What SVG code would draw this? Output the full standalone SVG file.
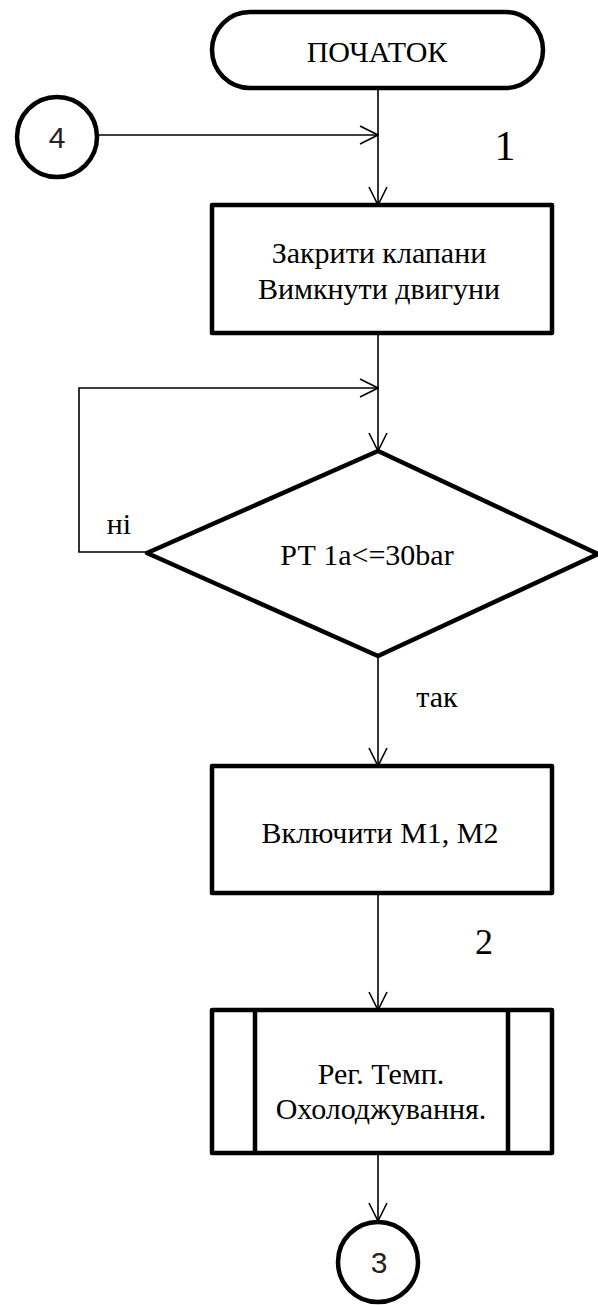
<svg xmlns="http://www.w3.org/2000/svg" width="598" height="1305" viewBox="0 0 598 1305">
<style>
.shape{fill:#fff;stroke:#000;stroke-width:4.5;stroke-linejoin:round}
.con{fill:none;stroke:#000;stroke-width:1.6}
.t{font-family:"Liberation Serif","Times New Roman",serif;font-size:30px;fill:#000;text-anchor:middle}
.n{font-family:"Liberation Sans",Arial,sans-serif;font-size:30px;fill:#222;text-anchor:middle}
</style>
<defs>
<marker id="arr" viewBox="0 0 20 20" refX="19" refY="10" markerWidth="20" markerHeight="20" markerUnits="userSpaceOnUse" orient="auto">
<path d="M1,1 L19,10 L1,19" fill="none" stroke="#000" stroke-width="1.6"/>
</marker>
</defs>
<g id="connectors">
<line class="con" x1="378" y1="88" x2="378" y2="205" marker-end="url(#arr)"/>
<line class="con" x1="98" y1="135" x2="378" y2="135" marker-end="url(#arr)"/>
<line class="con" x1="378" y1="333" x2="378" y2="451" marker-end="url(#arr)"/>
<polyline class="con" points="147,552 79,552 79,388 378,388" marker-end="url(#arr)"/>
<line class="con" x1="378" y1="656" x2="378" y2="766" marker-end="url(#arr)"/>
<line class="con" x1="378" y1="893" x2="378" y2="1010" marker-end="url(#arr)"/>
<line class="con" x1="378" y1="1153" x2="378" y2="1221" marker-end="url(#arr)"/>
<text class="t" x="119" y="534">ні</text>
<text class="t" x="437" y="707">так</text>
<text class="t" x="505" y="160" style="font-size:42px">1</text>
<text class="t" x="484" y="954" style="font-size:36px">2</text>
</g>
<g id="start">
<rect class="shape" x="212" y="12" width="331" height="76" rx="38" ry="38"/>
<text class="t" x="377" y="62">ПОЧАТОК</text>
</g>
<g id="conn4">
<circle class="shape" cx="57" cy="137" r="40"/>
<text class="n" x="57" y="148">4</text>
</g>
<g id="box1">
<rect class="shape" x="212" y="205" width="340" height="128"/>
<text class="t" x="379" y="263">Закрити клапани</text>
<text class="t" x="379" y="299">Вимкнути двигуни</text>
</g>
<g id="decision">
<polygon class="shape" points="378,451 598,554 378,656 147,553"/>
<text class="t" x="367" y="565">РТ 1а&lt;=30bar</text>
</g>
<g id="box2">
<rect class="shape" x="212" y="766" width="340" height="127"/>
<text class="t" x="380" y="843">Включити М1, М2</text>
</g>
<g id="box3">
<rect class="shape" x="212" y="1010" width="340" height="143"/>
<line class="shape" x1="255" y1="1010" x2="255" y2="1153"/>
<line class="shape" x1="508" y1="1010" x2="508" y2="1153"/>
<text class="t" x="381" y="1084">Рег. Темп.</text>
<text class="t" x="381" y="1119">Охолоджування.</text>
</g>
<g id="conn3">
<circle class="shape" cx="378" cy="1262" r="40"/>
<text class="n" x="379" y="1273">3</text>
</g>
</svg>
